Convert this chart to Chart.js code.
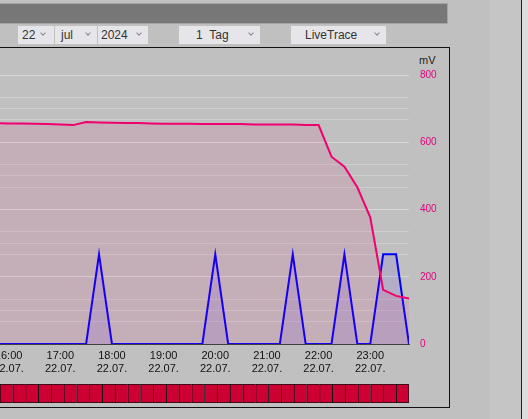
<!DOCTYPE html>
<html>
<head>
<meta charset="utf-8">
<script src="https://cdn.jsdelivr.net/npm/chart.js@4"></script>
<style>
  body { margin: 0; width: 528px; height: 419px; overflow: hidden; background: #c0c0c0; position: relative;
         font-family: 'Liberation Sans', Arial, sans-serif; }
  .abs { position: absolute; }
  .bar { left: -2px; top: 3px; width: 450px; height: 21px; background: #777; border: 1px solid #a4a4a4; box-sizing: border-box; }
  .sel { top: 26px; height: 18px; background: #e6e6ea; font-size: 12px; color: #333; line-height: 18px; }
  .sel span { position: absolute; }
  .chev { position: absolute; top: 5px; width: 3px; height: 3px; border-right: 1px solid #888; border-bottom: 1px solid #888; transform: rotate(45deg); }
  .frame { left: -1px; top: 47px; width: 451px; height: 361px; border: 1px solid #111; box-sizing: border-box; }
</style>
</head>
<body>
<div class="abs" style="left:490px;top:0;width:31px;height:419px;background:#c5c5c5"></div>
<div class="abs" style="left:521px;top:0;width:1px;height:419px;background:#222"></div>
<div class="abs" style="left:522px;top:0;width:6px;height:419px;background:#dcdcdc"></div>
<div class="abs bar"></div>

<div class="abs sel" style="left:18px;width:36px"><span style="left:4px">22</span><i class="chev" style="left:23px"></i></div>
<div class="abs sel" style="left:55px;width:42px"><span style="left:6px">jul</span><i class="chev" style="left:31px"></i></div>
<div class="abs sel" style="left:98px;width:50px"><span style="left:3px">2024</span><i class="chev" style="left:39px"></i></div>
<div class="abs sel" style="left:179px;width:81px"><span style="left:17px">1&nbsp;&nbsp;Tag</span><i class="chev" style="left:70px"></i></div>
<div class="abs sel" style="left:291px;width:95px"><span style="left:14px">LiveTrace</span><i class="chev" style="left:84px"></i></div>

<div class="abs frame"></div>
<div class="abs" style="left:419px;top:54px;font-size:11px;color:#222">mV</div>

<canvas id="mainChart" class="abs" style="left:-40px;top:50px" width="489" height="336"></canvas>
<canvas id="slotChart" class="abs" style="left:0;top:384px" width="409" height="19"></canvas>

<script>
// Messwerte, 15-Minuten-Raster
const times = ['15:45','16:00','16:15','16:30','16:45','17:00','17:15','17:30','17:45','18:00','18:15',
  '18:30','18:45','19:00','19:15','19:30','19:45','20:00','20:15','20:30','20:45','21:00','21:15',
  '21:30','21:45','22:00','22:15','22:30','22:45','23:00','23:15','23:30','23:45'];
const spannung = [657,656,656,655,654,653,651,660,659,658,657,657,656,655,655,655,654,654,654,
  654,653,653,653,653,651,651,557,527,466,377,161,143,135];
const status = [0,0,0,0,0,0,0,0,4,0,0,0,0,0,0,0,0,4,0,0,0,0,0,4,0,0,0,4,0,0,4,4,0];
const hourTicks = ['16:00','17:00','18:00','19:00','20:00','21:00','22:00','23:00'];
const dayLabel = '22.07.';
const slotStates = [1,1,1,1,1,1,1,1,1,1,1,1,1,1,1,1,1,1,1,1,1,1,1,1,1,1,1,1,1,1,1,1];

const toMin = t => { const [h, m] = t.split(':'); return h * 60 + +m; };
const fromMin = v => String(Math.floor(v / 60)).padStart(2, '0') + ':' + String(v % 60).padStart(2, '0');
const FONT = "'Liberation Sans', Arial, sans-serif";
const gridColor = 'rgba(255,255,255,0.22)';

new Chart(document.getElementById('mainChart'), {
  type: 'line',
  data: {
    datasets: [{
      data: times.map((t, i) => ({ x: toMin(t), y: spannung[i] })),
      yAxisID: 'y',
      borderColor: '#f0006e',
      backgroundColor: 'rgba(240,0,110,0.09)',
      borderWidth: 2,
      fill: 'origin',
      pointRadius: 0,
      tension: 0
    }, {
      data: times.map((t, i) => ({ x: toMin(t), y: status[i] })),
      yAxisID: 'y2',
      borderColor: '#0000ff',
      backgroundColor: 'rgba(30,0,255,0.09)',
      borderWidth: 2,
      fill: 'origin',
      pointRadius: 0,
      tension: 0
    }]
  },
  options: {
    responsive: false,
    animation: false,
    devicePixelRatio: 1,
    layout: { padding: { left: 40, top: 25, right: 0, bottom: 0 } },
    plugins: { legend: { display: false }, tooltip: { enabled: false } },
    scales: {
      x: {
        type: 'linear',
        min: 950,
        max: 1425,
        afterBuildTicks: s => { s.ticks = hourTicks.map(t => ({ value: toMin(t) })); },
        afterFit: s => { s.height = 42; },
        grid: { display: false, drawTicks: false },
        border: { display: true, color: '#404040', width: 1 },
        ticks: {
          autoSkip: false, maxRotation: 0, padding: 5, color: '#111',
          font: { family: FONT, size: 11 },
          callback: v => [fromMin(v), dayLabel]
        }
      },
      y: {
        position: 'right',
        min: 0,
        max: 800,
        afterFit: s => { s.width = 40; },
        border: { display: false },
        grid: { color: gridColor, drawTicks: false },
        ticks: {
          stepSize: 100, padding: 11, color: '#e6007e',
          font: { family: FONT, size: 10 },
          callback: v => (v % 200 === 0 ? v : '')
        }
      },
      y2: {
        position: 'left',
        min: 0,
        max: 12,
        afterFit: s => { s.width = 0; },
        border: { display: false },
        grid: { color: gridColor, drawTicks: false },
        ticks: { display: false, stepSize: 1 }
      }
    }
  }
});

// Statusleiste
const last = slotStates.length - 1;
new Chart(document.getElementById('slotChart'), {
  type: 'bar',
  data: {
    labels: times.slice(0, slotStates.length),
    datasets: [{
      data: slotStates,
      backgroundColor: '#cc0033',
      borderColor: '#111',
      borderSkipped: false,
      borderWidth: c => ({ left: 1, top: 1, bottom: 1, right: c.dataIndex === last ? 1 : 0 }),
      barPercentage: 1,
      categoryPercentage: 1
    }]
  },
  options: {
    responsive: false,
    animation: false,
    devicePixelRatio: 1,
    layout: { padding: 0 },
    plugins: { legend: { display: false }, tooltip: { enabled: false } },
    scales: {
      x: { display: false },
      y: { display: false, min: 0, max: 1 }
    }
  }
});
</script>
</body>
</html>
